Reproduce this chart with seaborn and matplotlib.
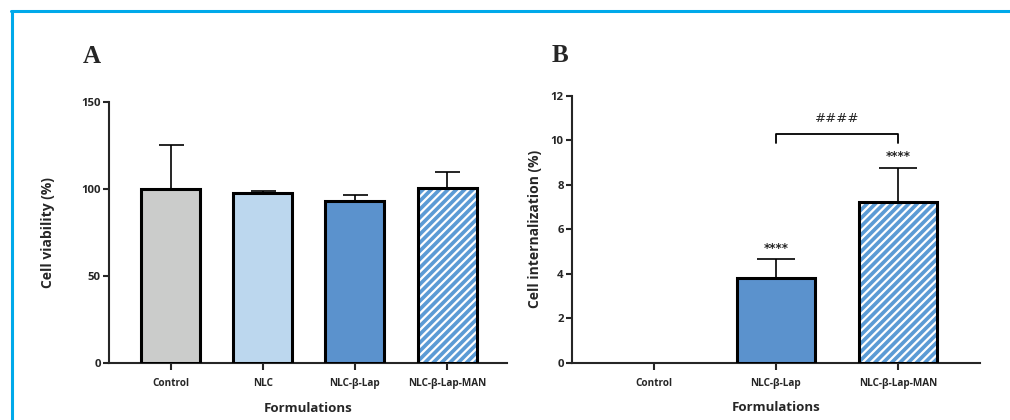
import matplotlib

matplotlib.use("Agg")
import matplotlib.pyplot as plt
import numpy as np
import seaborn as sns
from matplotlib.lines import Line2D
from matplotlib.patches import Rectangle

# panel A: cell viability
categories_a = ["Control", "NLC", "NLC-β-Lap", "NLC-β-Lap-MAN"]
viability_mean = [100.0, 97.8, 93.2, 100.4]
viability_sd = [25.5, 1.3, 3.4, 9.2]

# panel B: cell internalization
categories_b = ["Control", "NLC-β-Lap", "NLC-β-Lap-MAN"]
internal_mean = [0.0, 3.8, 7.22]
internal_sd = [0.0, 0.85, 1.56]

colors = {
    "Control": "#CBCCCB",
    "NLC": "#BCD7EE",
    "NLC-β-Lap": "#5B92CD",
    "NLC-β-Lap-MAN": "#5B9BD5",
}
HATCHED = "NLC-β-Lap-MAN"

sns.set_style("ticks")
plt.rcParams["font.family"] = ["Open Sans", "DejaVu Sans"]
plt.rcParams["hatch.linewidth"] = 1.6
plt.rcParams["axes.linewidth"] = 1.5


def drawBars(ax, cats, means, sds, capsize, ylim, yticks, ylabel, labelpad):
    sns.barplot(
        x=cats,
        y=means,
        hue=cats,
        palette=[colors[c] for c in cats],
        saturation=1,
        legend=False,
        width=0.64,
        edgecolor="black",
        linewidth=2.2,
        ax=ax,
        zorder=3,
    )
    for cat, patch in zip(cats, ax.patches):
        if patch.get_height() == 0:
            patch.set_linewidth(0)
        if cat == HATCHED:
            patch.set_hatch("////")
            patch.set_edgecolor("white")
            patch.set_linewidth(0)
            ax.add_patch(
                Rectangle(
                    (patch.get_x(), patch.get_y()),
                    patch.get_width(),
                    patch.get_height(),
                    fill=False,
                    edgecolor="black",
                    linewidth=2.2,
                    zorder=4,
                )
            )

    xs = np.arange(len(cats))
    m = np.array(means)
    s = np.array(sds)
    keep = s > 0
    ax.errorbar(
        xs[keep],
        m[keep],
        yerr=[np.zeros(keep.sum()), s[keep]],
        fmt="none",
        ecolor="black",
        elinewidth=1.2,
        capsize=capsize,
        capthick=1.2,
        zorder=2,
    )

    ax.set_ylim(*ylim)
    ax.set_yticks(yticks)
    ax.set_ylabel(ylabel, fontsize=10, fontweight="bold", labelpad=labelpad)
    ax.set_xlabel("Formulations", fontsize=9.5, fontweight="bold", labelpad=9)
    ax.tick_params(axis="x", length=5, width=1.5, pad=6, labelsize=7.2)
    ax.tick_params(axis="y", length=4, width=1.5, pad=2, labelsize=8.2)
    for lab in ax.get_xticklabels() + ax.get_yticklabels():
        lab.set_fontweight("bold")
    sns.despine(ax=ax)


fig = plt.figure(figsize=(10.1, 4.2), dpi=100)
axA = fig.add_axes([0.1079, 0.1357, 0.394, 0.621])
axB = fig.add_axes([0.5663, 0.1364, 0.4037, 0.6350])

drawBars(axA, categories_a, viability_mean, viability_sd, 9,
         (0, 150), [0, 50, 100, 150], "Cell viability (%)", 19)
axA.set_xlim(-0.67, 3.65)

drawBars(axB, categories_b, internal_mean, internal_sd, 14,
         (0, 12), [0, 2, 4, 6, 8, 10, 12], "Cell internalization (%)", 6)
axB.set_xlim(-0.67, 2.67)

# significance marks
tops = np.array(internal_mean) + np.array(internal_sd)
for i in (1, 2):
    axB.text(i, tops[i] + 0.5, "****", ha="center", va="center",
             fontsize=8.5, fontweight="bold", family="DejaVu Sans")
yb = tops.max() + 1.1
axB.plot([1, 1, 2, 2], [yb, yb + 0.42, yb + 0.42, yb], color="black", lw=1.3)
axB.text(1.5, yb + 1.12, "####", ha="center", va="center", fontsize=9.5,
         family="DejaVu Sans")

# panel letters
fig.text(0.091, 0.866, "A", fontsize=18, fontweight="bold",
         family="Liberation Serif", ha="center", va="center")
fig.text(0.554, 0.869, "B", fontsize=18, fontweight="bold",
         family="Liberation Serif", ha="center", va="center")

# frame around the figure
fig.add_artist(Line2D([11 / 1010, 1], [1 - 11 / 420, 1 - 11 / 420],
                      color="#00A9EA", lw=2.2))
fig.add_artist(Line2D([12 / 1010, 12 / 1010], [0, 1 - 11 / 420],
                      color="#00A9EA", lw=2.2))

fig.savefig("out.png", dpi=100)
